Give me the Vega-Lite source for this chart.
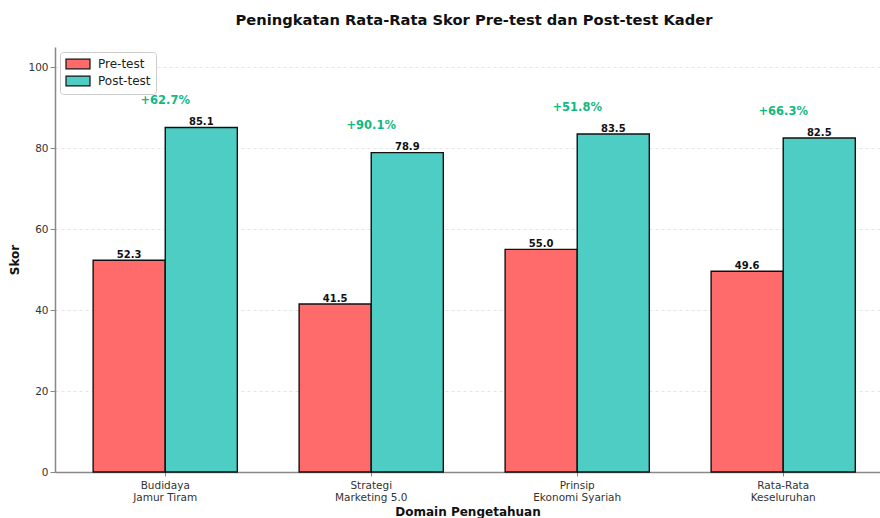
{
  "$schema": "https://vega.github.io/schema/vega-lite/v6.json",
  "width": 825,
  "height": 425,
  "autosize": {"type": "none"},
  "padding": {"left": 55, "top": 47, "right": 0, "bottom": 46},
  "background": "white",
  "title": {
    "text": "Peningkatan Rata-Rata Skor Pre-test dan Post-test Kader",
    "font": "DejaVu Sans",
    "fontSize": 14.7,
    "fontWeight": "bold",
    "color": "#111111",
    "anchor": "middle",
    "frame": "group",
    "dx": 6.5,
    "offset": 19
  },
  "datasets": {
    "scores": [
      {"domain": "Budidaya\nJamur Tiram", "test": "Pre-test", "score": 52.3},
      {"domain": "Budidaya\nJamur Tiram", "test": "Post-test", "score": 85.1},
      {"domain": "Strategi\nMarketing 5.0", "test": "Pre-test", "score": 41.5},
      {"domain": "Strategi\nMarketing 5.0", "test": "Post-test", "score": 78.9},
      {"domain": "Prinsip\nEkonomi Syariah", "test": "Pre-test", "score": 55.0},
      {"domain": "Prinsip\nEkonomi Syariah", "test": "Post-test", "score": 83.5},
      {"domain": "Rata-Rata\nKeseluruhan", "test": "Pre-test", "score": 49.6},
      {"domain": "Rata-Rata\nKeseluruhan", "test": "Post-test", "score": 82.5}
    ],
    "gains": [
      {"domain": "Budidaya\nJamur Tiram", "post": 85.1, "gain": "+62.7%"},
      {"domain": "Strategi\nMarketing 5.0", "post": 78.9, "gain": "+90.1%"},
      {"domain": "Prinsip\nEkonomi Syariah", "post": 83.5, "gain": "+51.8%"},
      {"domain": "Rata-Rata\nKeseluruhan", "post": 82.5, "gain": "+66.3%"}
    ]
  },
  "layer": [
    {
      "data": {"name": "scores"},
      "mark": {"type": "bar", "stroke": "#111111", "strokeWidth": 1.4},
      "encoding": {
        "x": {
          "field": "domain", "type": "nominal",
          "scale": {"domain": ["Budidaya\nJamur Tiram", "Strategi\nMarketing 5.0", "Prinsip\nEkonomi Syariah", "Rata-Rata\nKeseluruhan"], "paddingInner": 0.3, "paddingOuter": 0.1525, "align": 0.607},
          "axis": {
            "title": "Domain Pengetahuan",
            "labelAngle": 0,
            "labelExpr": "split(datum.label, '\\n')",
            "labelFont": "DejaVu Sans",
            "labelFontSize": 10.5,
            "labelColor": "#333333",
            "labelLineHeight": 12,
            "labelPadding": 4,
            "tickColor": "#888888",
            "tickSize": 4,
            "domainColor": "#888888",
            "domainWidth": 1.5,
            "titleFont": "DejaVu Sans",
            "titleFontSize": 12,
            "titleFontWeight": "bold",
            "titleColor": "#111111",
            "titlePadding": 4
          }
        },
        "xOffset": {"field": "test", "type": "nominal", "scale": {"domain": ["Pre-test", "Post-test"], "paddingInner": 0, "paddingOuter": 0}},
        "y": {
          "field": "score", "type": "quantitative",
          "scale": {"domain": [0, 105], "nice": false},
          "axis": {
            "title": "Skor",
            "values": [0, 20, 40, 60, 80, 100],
            "labelFont": "DejaVu Sans",
            "labelFontSize": 10.5,
            "labelColor": "#333333",
            "tickColor": "#888888",
            "tickSize": 5,
            "domainColor": "#888888",
            "domainWidth": 1.5,
            "grid": true,
            "gridColor": "#dddddd",
            "gridDash": [3, 3],
            "gridWidth": 0.8,
            "titleFont": "DejaVu Sans",
            "titleFontSize": 12,
            "titleFontWeight": "bold",
            "titleColor": "#111111",
            "titlePadding": 6
          }
        },
        "color": {
          "field": "test", "type": "nominal",
          "scale": {"domain": ["Pre-test", "Post-test"], "range": ["#FF6B6B", "#4ECDC4"]},
          "legend": {
            "title": null,
            "orient": "none",
            "legendX": 5,
            "legendY": 5,
            "symbolType": "M-2,-0.8H2V0.8H-2Z",
            "symbolSize": 144,
            "symbolOffset": 6,
            "symbolStrokeColor": "#111111",
            "symbolStrokeWidth": 1.2,
            "symbolOpacity": 1,
            "labelFont": "DejaVu Sans",
            "labelFontSize": 12,
            "labelColor": "#222222",
            "labelOffset": 13,
            "rowPadding": 1,
            "padding": 5,
            "strokeColor": "#cccccc",
            "fillColor": "white",
            "cornerRadius": 3
          }
        }
      }
    },
    {
      "data": {"name": "scores"},
      "mark": {"type": "text", "baseline": "alphabetic", "dy": -2.5, "font": "DejaVu Sans", "fontSize": 10, "fontWeight": "bold", "color": "#111111"},
      "encoding": {
        "x": {"field": "domain", "type": "nominal"},
        "xOffset": {"field": "test", "type": "nominal"},
        "y": {"field": "score", "type": "quantitative"},
        "text": {"field": "score", "type": "quantitative", "format": ".1f"}
      }
    },
    {
      "data": {"name": "gains"},
      "mark": {"type": "text", "baseline": "middle", "dy": -26.5, "font": "DejaVu Sans", "fontSize": 11.5, "fontWeight": "bold", "color": "#10B981"},
      "encoding": {
        "x": {"field": "domain", "type": "nominal"},
        "y": {"field": "post", "type": "quantitative"},
        "text": {"field": "gain", "type": "nominal"}
      }
    }
  ],
  "config": {
    "view": {"stroke": null},
    "font": "DejaVu Sans"
  }
}
